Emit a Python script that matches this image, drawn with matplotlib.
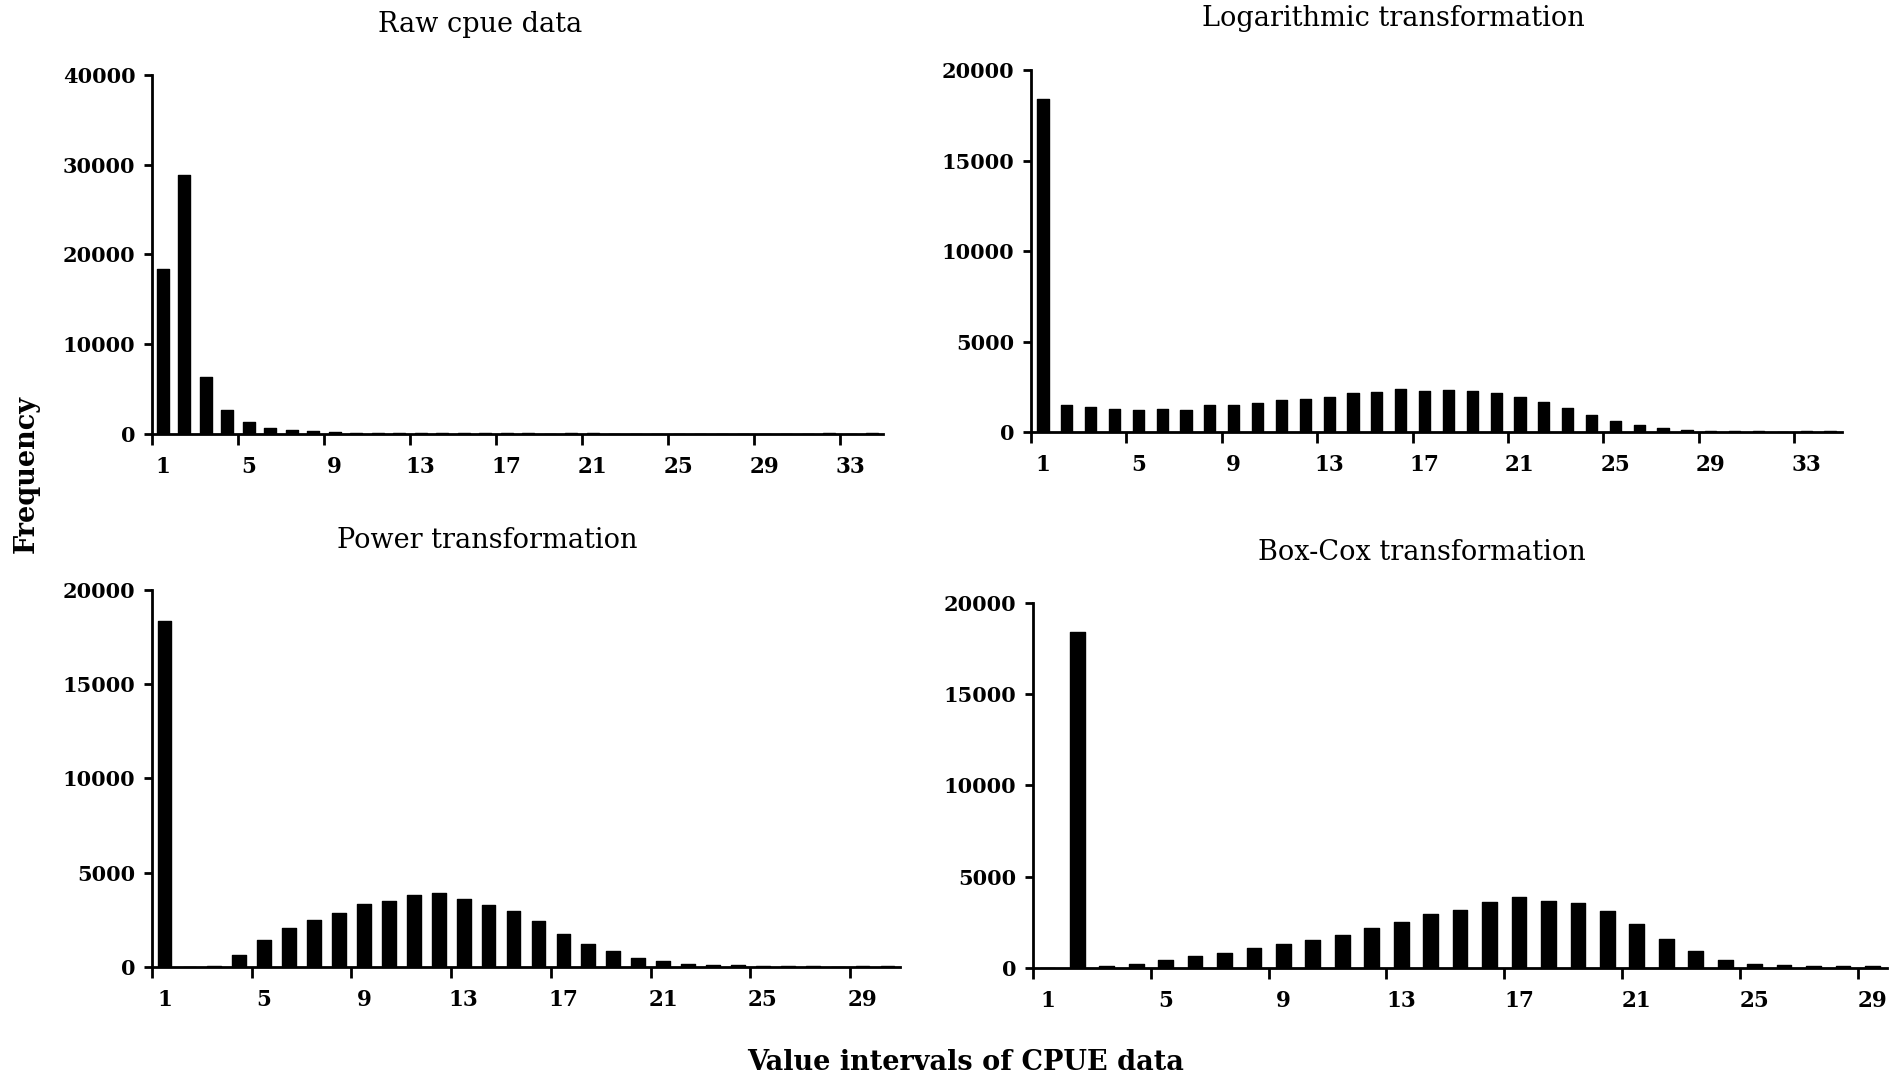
import numpy as np
import matplotlib
matplotlib.use('Agg')
import matplotlib.pyplot as plt

# frequencies per value interval
raw_cpue = [18400, 28900, 6300, 2700, 1300, 700, 450, 300, 200, 150,
            120, 100, 90, 80, 80, 70, 60, 60, 20, 70,
            60, 0, 0, 0, 0, 0, 0, 0, 0, 0,
            0, 60, 0, 60]
log_cpue = [18400, 1470, 1360, 1250, 1240, 1250, 1220, 1490, 1470, 1590,
            1790, 1810, 1940, 2180, 2210, 2400, 2290, 2300, 2290, 2160,
            1950, 1640, 1310, 960, 630, 390, 200, 130, 70, 50,
            50, 0, 50, 50]
power_cpue = [18350, 0, 70, 650, 1450, 2080, 2490, 2880, 3360, 3500,
              3800, 3920, 3620, 3290, 2970, 2440, 1750, 1240, 830, 480,
              300, 180, 120, 100, 70, 60, 60, 0, 60, 60]
boxcox_cpue = [0, 18400, 90, 240, 460, 640, 820, 1080, 1320, 1530,
               1810, 2190, 2520, 2960, 3180, 3600, 3870, 3670, 3580, 3120,
               2390, 1610, 930, 460, 240, 150, 110, 110, 110]

titles = ["Raw cpue data", "Logarithmic transformation",
          "Power transformation", "Box-Cox transformation"]
y_max = [40000, 20000, 20000, 20000]
y_step = [10000, 5000, 5000, 5000]

SERIF = ['DejaVu Serif']

fig = plt.figure(figsize=(18.9, 10.79), dpi=100)

# axes boxes in figure fractions (left, bottom, width, height)
boxes = [
    (0.0804, 0.5978, 0.3868, 0.3327),
    (0.5455, 0.5996, 0.4291, 0.3355),
    (0.0804, 0.1038, 0.3958, 0.3494),
    (0.5466, 0.1029, 0.4519, 0.3383),
]
widths = [0.55, 0.47, 0.55, 0.5]
# title centres in pixels (x, y from top)
title_pos = [(480, 25), (1393, 19), (487, 541), (1422, 553)]

series = [raw_cpue, log_cpue, power_cpue, boxcox_cpue]

for i, vals in enumerate(series):
    ax = fig.add_axes(boxes[i])
    n = len(vals)
    cats = np.arange(1, n + 1)
    ax.bar(cats, vals, width=widths[i], color='black', edgecolor='black',
           linewidth=1.0, joinstyle='round')
    ax.set_xlim(0.5, n + 0.5)
    ax.set_ylim(0, y_max[i])

    ax.spines['top'].set_visible(False)
    ax.spines['right'].set_visible(False)
    ax.spines['left'].set_linewidth(2)
    ax.spines['bottom'].set_linewidth(2)

    # ticks between categories, labels under the categories
    ax.set_xticks(np.arange(0.5, n, 4))
    ax.set_xticklabels([])
    ax.set_xticks(np.arange(1, n + 1, 4), minor=True)
    ax.set_xticklabels([str(c) for c in range(1, n + 1, 4)], minor=True,
                       family=SERIF, fontsize=15.5, fontweight='bold')
    ax.tick_params(axis='x', which='major', direction='out', length=8, width=2)
    ax.tick_params(axis='x', which='minor', length=0, pad=16)

    yt = np.arange(0, y_max[i] + 1, y_step[i])
    ax.set_yticks(yt)
    ax.set_yticklabels([str(v) for v in yt], family=SERIF, fontsize=15,
                       fontweight='bold')
    ax.tick_params(axis='y', direction='out', length=6, width=2, pad=6)

    tx, ty = title_pos[i]
    fig.text(tx / 1890, 1 - ty / 1079, titles[i], ha='center', va='center',
             family=SERIF, fontsize=19.5)

fig.text(26 / 1890, 1 - 474 / 1079, "Frequency", rotation=90, ha='center',
         va='center', family=SERIF, fontsize=19.5, fontweight='bold')
fig.text(966 / 1890, 1 - 1063 / 1079, "Value intervals of CPUE data",
         ha='center', va='center', family=SERIF, fontsize=19.5,
         fontweight='bold')

fig.savefig('out.png', dpi=100, facecolor='white')
